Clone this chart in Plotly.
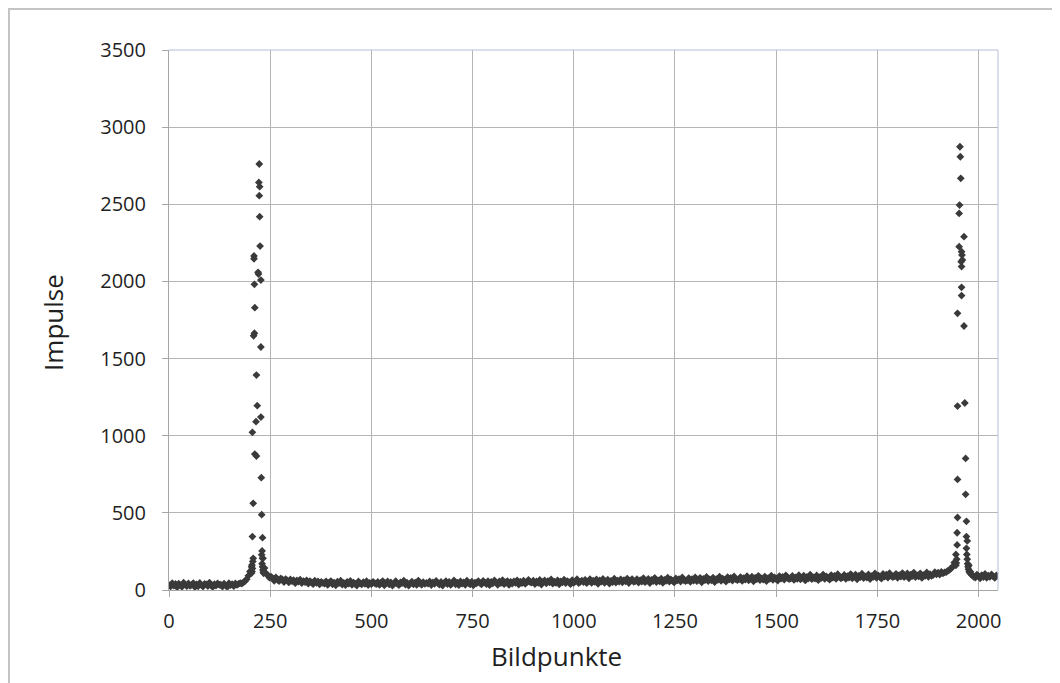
import plotly.graph_objects as go

# Baseline counts, one value every 4 pixels (Bildpunkte 0, 4, 8, ... 2044)
row00 = [32, 23, 44, 28, 39, 18, 41, 30, 21, 47, 35, 25, 42, 27, 33, 45, 19, 37, 24, 46, 31, 22, 40, 36, 26, 48, 29, 20, 38, 28, 43, 34]
row01 = [34, 22, 41, 29, 20, 44, 31, 38, 25, 42, 33, 40, 45, 42, 50, 58, 70, 92, 120, 150, 205, 881, 1393, 2059, 2614, 728, 205, 142, 108, 95, 80, 86]
row02 = [76, 60, 82, 66, 58, 75, 69, 52, 71, 63, 49, 68, 57, 64, 44, 62, 55, 67, 45, 58, 52, 63, 41, 57, 50, 38, 60, 47, 55, 36, 53, 46]
row03 = [42, 56, 33, 49, 58, 37, 47, 30, 54, 44, 60, 35, 46, 31, 52, 41, 59, 34, 48, 39, 29, 55, 43, 36, 51, 40, 57, 32, 46, 38, 53, 44]
row04 = [38, 52, 33, 47, 58, 30, 44, 55, 36, 49, 28, 43, 57, 41, 31, 50, 45, 60, 35, 47, 29, 42, 54, 37, 48, 33, 61, 44, 34, 51, 40, 46]
row05 = [41, 55, 32, 49, 40, 59, 45, 35, 52, 29, 46, 57, 39, 53, 33, 44, 62, 37, 48, 31, 56, 42, 50, 34, 60, 47, 36, 54, 30, 48, 43, 58]
row06 = [46, 36, 59, 49, 39, 57, 31, 52, 43, 62, 48, 34, 55, 45, 64, 38, 50, 58, 33, 53, 42, 56, 47, 63, 35, 54, 44, 60, 40, 49, 66, 51]
row07 = [48, 60, 39, 55, 47, 65, 35, 52, 62, 43, 57, 50, 68, 41, 54, 46, 63, 37, 56, 49, 67, 44, 58, 51, 38, 64, 47, 56, 70, 45, 53, 61]
row08 = [52, 66, 44, 58, 70, 46, 60, 53, 68, 40, 62, 55, 72, 47, 57, 67, 42, 59, 51, 73, 48, 61, 54, 69, 50, 64, 56, 74, 45, 60, 71, 53]
row09 = [57, 70, 48, 64, 55, 76, 51, 61, 72, 45, 66, 58, 78, 52, 63, 56, 74, 47, 65, 60, 80, 54, 68, 59, 49, 75, 62, 71, 55, 81, 64, 58]
row10 = [62, 77, 53, 70, 61, 82, 57, 67, 79, 50, 72, 64, 85, 58, 69, 63, 80, 52, 71, 66, 86, 60, 74, 65, 55, 83, 68, 78, 61, 88, 70, 64]
row11 = [69, 84, 59, 76, 67, 89, 63, 73, 86, 56, 79, 70, 92, 64, 75, 68, 87, 58, 77, 72, 93, 66, 81, 71, 61, 90, 74, 85, 67, 95, 78, 70]
row12 = [75, 91, 65, 82, 73, 96, 69, 79, 93, 62, 85, 76, 99, 70, 81, 74, 94, 64, 83, 78, 100, 72, 88, 77, 67, 97, 80, 92, 73, 102, 84, 76]
row13 = [82, 98, 72, 89, 80, 103, 76, 86, 100, 69, 92, 83, 106, 77, 88, 81, 101, 71, 90, 85, 107, 79, 95, 84, 74, 104, 87, 99, 80, 109, 91, 83]
row14 = [89, 105, 79, 96, 87, 110, 83, 93, 107, 76, 99, 90, 113, 84, 95, 88, 108, 78, 97, 92, 114, 86, 102, 91, 98, 115, 101, 112, 100, 118, 108, 114]
row15 = [116, 124, 130, 140, 152, 178, 230, 717, 2225, 2668, 2139, 1711, 620, 318, 160, 118, 98, 86, 80, 100, 90, 76, 97, 84, 104, 79, 93, 85, 101, 88, 78, 95]

impulse_base = (row00 + row01 + row02 + row03 + row04 + row05 + row06 + row07
                + row08 + row09 + row10 + row11 + row12 + row13 + row14 + row15)
bildpunkt_base = list(range(0, 4 * len(impulse_base), 4))

# Additional points in the two peaks
peak1_x = [223, 222, 223, 224, 225, 210, 210, 221, 227, 211, 212, 209, 211, 227, 218, 227, 215, 206,
           216, 208, 229, 206, 231, 230, 205, 231, 205, 206, 207, 230, 231, 232, 233, 234, 229, 204]
peak1_y = [2761, 2642, 2556, 2420, 2229, 2165, 2147, 2048, 2009, 1981, 1830, 1648, 1664, 1575, 1195, 1121, 1091, 1022,
           868, 562, 488, 346, 339, 253, 162, 205, 120, 140, 185, 170, 150, 130, 115, 108, 228, 110]
peak2_x = [1954, 1955, 1953, 1952, 1964, 1958, 1959, 1957, 1958, 1958, 1958, 1948, 1948, 1966, 1968, 1970,
           1948, 1947, 1970, 1947, 1946, 1945, 1970, 1971, 1972, 1973, 1974, 1975, 1977, 1978, 1982, 1944]
peak2_y = [2873, 2808, 2495, 2441, 2290, 2193, 2171, 2128, 2096, 1962, 1908, 1793, 1192, 1212, 853, 445,
           470, 371, 346, 292, 200, 175, 270, 230, 200, 170, 150, 135, 120, 112, 100, 160]

x_ticks = [0, 250, 500, 750, 1000, 1250, 1500, 1750, 2000]
y_ticks = [0, 500, 1000, 1500, 2000, 2500, 3000, 3500]

xs = bildpunkt_base + peak1_x + peak2_x
ys = impulse_base + peak1_y + peak2_y

TXT = "#1f1f1f"

fig = go.Figure()
fig.add_trace(go.Scatter(
    x=xs, y=ys, mode="markers",
    marker=dict(symbol="diamond", size=6, color="#3a3a3a", line=dict(width=0)),
    hoverinfo="x+y", showlegend=False,
))

axis_common = dict(
    showgrid=True, gridcolor="#b5b5b5", gridwidth=1,
    showline=True, linecolor="#a6a6a6", linewidth=1,
    ticks="outside", ticklen=6, tickcolor="#a6a6a6", tickwidth=1,
    tickfont=dict(size=20, color=TXT),
    zeroline=False,
)

fig.update_layout(
    width=1052, height=675,
    margin=dict(l=161, r=62, t=42, b=93),
    paper_bgcolor="white", plot_bgcolor="white",
    font=dict(family="Open Sans", color=TXT),
    xaxis=dict(range=[0, 2048], tickvals=x_ticks, ticktext=[str(v) for v in x_ticks],
               ticklabelstandoff=7, **axis_common),
    yaxis=dict(range=[0, 3500], tickvals=y_ticks, ticktext=[str(v) for v in y_ticks],
               ticklabelstandoff=12, **axis_common),
    annotations=[
        dict(text="Bildpunkte", xref="paper", yref="paper", x=0.468, y=-0.122,
             xanchor="center", yanchor="middle", showarrow=False,
             font=dict(size=26, color=TXT)),
        dict(text="Impulse", xref="paper", yref="paper", x=-0.14, y=0.4963,
             xanchor="center", yanchor="middle", showarrow=False, textangle=-90,
             font=dict(size=26, color=TXT)),
    ],
    shapes=[
        dict(type="rect", xref="paper", yref="paper", x0=-0.193, x1=1.2, y0=-0.3, y1=1.0759,
             line=dict(color="#c4c4c4", width=2), layer="below"),
        dict(type="line", xref="paper", yref="paper", x0=0, x1=1, y0=1, y1=1,
             line=dict(color="#b4bfd6", width=1), layer="above"),
        dict(type="line", xref="paper", yref="paper", x0=1, x1=1, y0=0, y1=1,
             line=dict(color="#b4bfd6", width=1), layer="above"),
    ],
)

fig.write_html("out.html")
